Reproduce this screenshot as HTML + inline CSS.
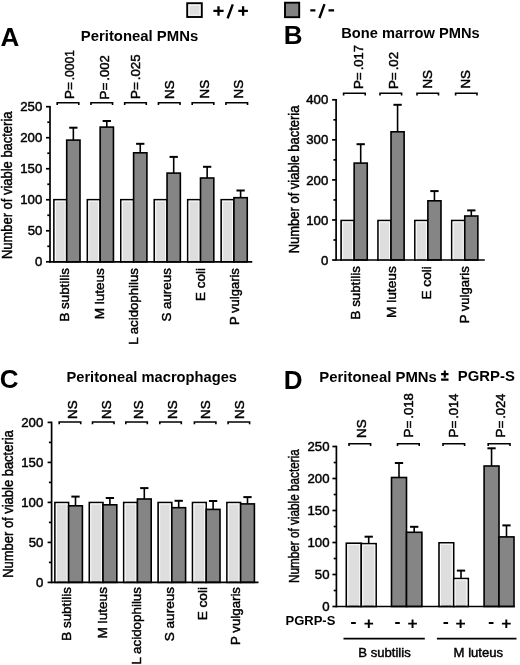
<!DOCTYPE html>
<html><head><meta charset="utf-8"><style>
html,body{margin:0;padding:0;background:#fff;overflow:hidden;}
svg{display:block;will-change:transform;}
text{font-family:"Liberation Sans", sans-serif;fill:#000;}
</style></head><body>
<svg width="520" height="665" viewBox="0 0 520 665">
<rect width="520" height="665" fill="#fff"/>
<rect x="187.2" y="3.2" width="14.6" height="13.8" fill="#dedede" stroke="#000" stroke-width="1.9"/>
<rect x="189.1" y="5.1" width="10.8" height="10.0" fill="none" stroke="#f6f6f6" stroke-width="1"/>
<path d="M213.4 10.9H223.6M218.5 6.3V15.7M238.3 10.9H247.9M243.1 6.3V15.7" stroke="#000" stroke-width="2.3" fill="none"/>
<path d="M227.6 18.4L232.8 4.3" stroke="#000" stroke-width="2.4" fill="none"/>
<rect x="285.0" y="2.7" width="14.2" height="14.5" fill="#828282" stroke="#000" stroke-width="1.9"/>
<path d="M310.3 10.4H315.4M328.5 10.4H334.1" stroke="#000" stroke-width="2.3" fill="none"/>
<path d="M319.4 18.1L324.5 4.2" stroke="#000" stroke-width="2.4" fill="none"/>
<text x="0.55" y="45.60" font-size="26.00" font-weight="bold" text-anchor="start">A</text>
<text x="283.85" y="44.35" font-size="26.00" font-weight="bold" text-anchor="start">B</text>
<text x="-0.15" y="387.75" font-size="26.00" font-weight="bold" text-anchor="start">C</text>
<text x="283.85" y="388.55" font-size="26.00" font-weight="bold" text-anchor="start">D</text>
<text x="80.75" y="40.75" font-size="14.80" font-weight="bold" text-anchor="start" textLength="117.47" lengthAdjust="spacingAndGlyphs">Peritoneal PMNs</text>
<text x="341.25" y="38.45" font-size="14.80" font-weight="bold" text-anchor="start" textLength="138.48" lengthAdjust="spacingAndGlyphs">Bone marrow PMNs</text>
<text x="66.45" y="381.50" font-size="14.80" font-weight="bold" text-anchor="start" textLength="170.57" lengthAdjust="spacingAndGlyphs">Peritoneal macrophages</text>
<text x="319.30" y="382.25" font-size="14.80" font-weight="bold" text-anchor="start" textLength="117.57" lengthAdjust="spacingAndGlyphs">Peritoneal PMNs</text>
<path d="M441.1 374.1H448.5M444.8 370.4V377.8M441.1 379.6H448.5" stroke="#000" stroke-width="2.1" fill="none"/>
<text x="457.85" y="381.25" font-size="14.80" font-weight="bold" text-anchor="start" textLength="57.03" lengthAdjust="spacingAndGlyphs">PGRP-S</text>
<line x1="50.00" y1="262.65" x2="50.00" y2="105.90" stroke="#000" stroke-width="1.7"/>
<line x1="46.00" y1="261.80" x2="50.00" y2="261.80" stroke="#000" stroke-width="1.7"/>
<line x1="47.30" y1="246.29" x2="50.00" y2="246.29" stroke="#000" stroke-width="1.7"/>
<line x1="46.00" y1="230.78" x2="50.00" y2="230.78" stroke="#000" stroke-width="1.7"/>
<line x1="47.30" y1="215.27" x2="50.00" y2="215.27" stroke="#000" stroke-width="1.7"/>
<line x1="46.00" y1="199.76" x2="50.00" y2="199.76" stroke="#000" stroke-width="1.7"/>
<line x1="47.30" y1="184.25" x2="50.00" y2="184.25" stroke="#000" stroke-width="1.7"/>
<line x1="46.00" y1="168.74" x2="50.00" y2="168.74" stroke="#000" stroke-width="1.7"/>
<line x1="47.30" y1="153.23" x2="50.00" y2="153.23" stroke="#000" stroke-width="1.7"/>
<line x1="46.00" y1="137.72" x2="50.00" y2="137.72" stroke="#000" stroke-width="1.7"/>
<line x1="47.30" y1="122.21" x2="50.00" y2="122.21" stroke="#000" stroke-width="1.7"/>
<line x1="46.00" y1="106.70" x2="50.00" y2="106.70" stroke="#000" stroke-width="1.7"/>
<text x="42.30" y="266.40" font-size="13.20" font-weight="normal" text-anchor="end" stroke="#000" stroke-width="0.45">0</text>
<text x="42.30" y="235.38" font-size="13.20" font-weight="normal" text-anchor="end" stroke="#000" stroke-width="0.45">50</text>
<text x="42.30" y="204.36" font-size="13.20" font-weight="normal" text-anchor="end" stroke="#000" stroke-width="0.45">100</text>
<text x="42.30" y="173.34" font-size="13.20" font-weight="normal" text-anchor="end" stroke="#000" stroke-width="0.45">150</text>
<text x="42.30" y="142.32" font-size="13.20" font-weight="normal" text-anchor="end" stroke="#000" stroke-width="0.45">200</text>
<text x="42.30" y="111.30" font-size="13.20" font-weight="normal" text-anchor="end" stroke="#000" stroke-width="0.45">250</text>
<text x="11.80" y="185.30" font-size="14.00" font-weight="normal" text-anchor="middle" transform="rotate(-90 11.80 185.30)" stroke="#000" stroke-width="0.45" textLength="147.50" lengthAdjust="spacingAndGlyphs">Number of viable bacteria</text>
<rect x="53.90" y="199.70" width="12.80" height="62.10" fill="#dedede" stroke="#000" stroke-width="1.6"/>
<rect x="55.40" y="201.20" width="9.80" height="60.60" fill="none" stroke="#f8f8f8" stroke-width="1.1"/>
<line x1="73.35" y1="127.70" x2="73.35" y2="140.10" stroke="#000" stroke-width="1.6"/>
<line x1="69.20" y1="127.70" x2="77.50" y2="127.70" stroke="#000" stroke-width="2.0"/>
<rect x="66.70" y="140.10" width="13.30" height="121.70" fill="#858585" stroke="#000" stroke-width="1.6"/>
<path d="M57.20 105.00 V102.80 H78.80 V105.00" fill="none" stroke="#000" stroke-width="1.6"/>
<text x="74.40" y="99.00" font-size="13.40" font-weight="normal" text-anchor="start" transform="rotate(-90 74.40 99.00)" stroke="#000" stroke-width="0.45">P=<tspan dx="2.00" textLength="30.10" lengthAdjust="spacingAndGlyphs">.0001</tspan></text>
<text x="68.80" y="268.10" font-size="13.40" font-weight="normal" text-anchor="end" transform="rotate(-90 68.80 268.10)" stroke="#000" stroke-width="0.45" textLength="53.49" lengthAdjust="spacingAndGlyphs">B subtilis</text>
<rect x="87.35" y="199.70" width="12.80" height="62.10" fill="#dedede" stroke="#000" stroke-width="1.6"/>
<rect x="88.85" y="201.20" width="9.80" height="60.60" fill="none" stroke="#f8f8f8" stroke-width="1.1"/>
<line x1="106.80" y1="121.00" x2="106.80" y2="127.10" stroke="#000" stroke-width="1.6"/>
<line x1="102.65" y1="121.00" x2="110.95" y2="121.00" stroke="#000" stroke-width="2.0"/>
<rect x="100.15" y="127.10" width="13.30" height="134.70" fill="#858585" stroke="#000" stroke-width="1.6"/>
<path d="M90.95 105.00 V102.80 H112.55 V105.00" fill="none" stroke="#000" stroke-width="1.6"/>
<text x="109.15" y="99.50" font-size="13.40" font-weight="normal" text-anchor="start" transform="rotate(-90 109.15 99.50)" stroke="#000" stroke-width="0.45">P=<tspan dx="2.00" textLength="25.40" lengthAdjust="spacingAndGlyphs">.002</tspan></text>
<text x="104.25" y="268.10" font-size="13.40" font-weight="normal" text-anchor="end" transform="rotate(-90 104.25 268.10)" stroke="#000" stroke-width="0.45" textLength="51.21" lengthAdjust="spacingAndGlyphs">M luteus</text>
<rect x="120.80" y="199.70" width="12.80" height="62.10" fill="#dedede" stroke="#000" stroke-width="1.6"/>
<rect x="122.30" y="201.20" width="9.80" height="60.60" fill="none" stroke="#f8f8f8" stroke-width="1.1"/>
<line x1="140.25" y1="143.80" x2="140.25" y2="152.80" stroke="#000" stroke-width="1.6"/>
<line x1="136.10" y1="143.80" x2="144.40" y2="143.80" stroke="#000" stroke-width="2.0"/>
<rect x="133.60" y="152.80" width="13.30" height="109.00" fill="#858585" stroke="#000" stroke-width="1.6"/>
<path d="M124.70 105.00 V102.80 H146.30 V105.00" fill="none" stroke="#000" stroke-width="1.6"/>
<text x="139.90" y="99.00" font-size="13.40" font-weight="normal" text-anchor="start" transform="rotate(-90 139.90 99.00)" stroke="#000" stroke-width="0.45">P=<tspan dx="2.00" textLength="25.90" lengthAdjust="spacingAndGlyphs">.025</tspan></text>
<text x="138.20" y="268.10" font-size="13.40" font-weight="normal" text-anchor="end" transform="rotate(-90 138.20 268.10)" stroke="#000" stroke-width="0.45" textLength="76.67" lengthAdjust="spacingAndGlyphs">L acidophilus</text>
<rect x="154.25" y="199.70" width="12.80" height="62.10" fill="#dedede" stroke="#000" stroke-width="1.6"/>
<rect x="155.75" y="201.20" width="9.80" height="60.60" fill="none" stroke="#f8f8f8" stroke-width="1.1"/>
<line x1="173.70" y1="156.90" x2="173.70" y2="173.10" stroke="#000" stroke-width="1.6"/>
<line x1="169.55" y1="156.90" x2="177.85" y2="156.90" stroke="#000" stroke-width="2.0"/>
<rect x="167.05" y="173.10" width="13.30" height="88.70" fill="#858585" stroke="#000" stroke-width="1.6"/>
<path d="M158.45 105.00 V102.80 H180.05 V105.00" fill="none" stroke="#000" stroke-width="1.6"/>
<text x="174.15" y="99.00" font-size="13.40" font-weight="normal" text-anchor="start" transform="rotate(-90 174.15 99.00)" stroke="#000" stroke-width="0.45">NS</text>
<text x="171.15" y="268.10" font-size="13.40" font-weight="normal" text-anchor="end" transform="rotate(-90 171.15 268.10)" stroke="#000" stroke-width="0.45" textLength="53.51" lengthAdjust="spacingAndGlyphs">S aureus</text>
<rect x="187.70" y="199.70" width="12.80" height="62.10" fill="#dedede" stroke="#000" stroke-width="1.6"/>
<rect x="189.20" y="201.20" width="9.80" height="60.60" fill="none" stroke="#f8f8f8" stroke-width="1.1"/>
<line x1="207.15" y1="166.80" x2="207.15" y2="178.00" stroke="#000" stroke-width="1.6"/>
<line x1="203.00" y1="166.80" x2="211.30" y2="166.80" stroke="#000" stroke-width="2.0"/>
<rect x="200.50" y="178.00" width="13.30" height="83.80" fill="#858585" stroke="#000" stroke-width="1.6"/>
<path d="M192.20 105.00 V102.80 H213.80 V105.00" fill="none" stroke="#000" stroke-width="1.6"/>
<text x="208.90" y="98.50" font-size="13.40" font-weight="normal" text-anchor="start" transform="rotate(-90 208.90 98.50)" stroke="#000" stroke-width="0.45">NS</text>
<text x="204.60" y="268.10" font-size="13.40" font-weight="normal" text-anchor="end" transform="rotate(-90 204.60 268.10)" stroke="#000" stroke-width="0.45" textLength="32.85" lengthAdjust="spacingAndGlyphs">E coli</text>
<rect x="221.15" y="199.70" width="12.80" height="62.10" fill="#dedede" stroke="#000" stroke-width="1.6"/>
<rect x="222.65" y="201.20" width="9.80" height="60.60" fill="none" stroke="#f8f8f8" stroke-width="1.1"/>
<line x1="240.60" y1="190.50" x2="240.60" y2="197.70" stroke="#000" stroke-width="1.6"/>
<line x1="236.45" y1="190.50" x2="244.75" y2="190.50" stroke="#000" stroke-width="2.0"/>
<rect x="233.95" y="197.70" width="13.30" height="64.10" fill="#858585" stroke="#000" stroke-width="1.6"/>
<path d="M225.95 105.00 V102.80 H247.55 V105.00" fill="none" stroke="#000" stroke-width="1.6"/>
<text x="242.65" y="98.50" font-size="13.40" font-weight="normal" text-anchor="start" transform="rotate(-90 242.65 98.50)" stroke="#000" stroke-width="0.45">NS</text>
<text x="238.55" y="268.10" font-size="13.40" font-weight="normal" text-anchor="end" transform="rotate(-90 238.55 268.10)" stroke="#000" stroke-width="0.45" textLength="56.96" lengthAdjust="spacingAndGlyphs">P vulgaris</text>
<line x1="50.00" y1="261.80" x2="252.30" y2="261.80" stroke="#000" stroke-width="1.7"/>
<line x1="336.10" y1="260.85" x2="336.10" y2="99.00" stroke="#000" stroke-width="1.7"/>
<line x1="332.10" y1="260.00" x2="336.10" y2="260.00" stroke="#000" stroke-width="1.7"/>
<line x1="333.40" y1="239.97" x2="336.10" y2="239.97" stroke="#000" stroke-width="1.7"/>
<line x1="332.10" y1="219.95" x2="336.10" y2="219.95" stroke="#000" stroke-width="1.7"/>
<line x1="333.40" y1="199.93" x2="336.10" y2="199.93" stroke="#000" stroke-width="1.7"/>
<line x1="332.10" y1="179.90" x2="336.10" y2="179.90" stroke="#000" stroke-width="1.7"/>
<line x1="333.40" y1="159.88" x2="336.10" y2="159.88" stroke="#000" stroke-width="1.7"/>
<line x1="332.10" y1="139.85" x2="336.10" y2="139.85" stroke="#000" stroke-width="1.7"/>
<line x1="333.40" y1="119.82" x2="336.10" y2="119.82" stroke="#000" stroke-width="1.7"/>
<line x1="332.10" y1="99.80" x2="336.10" y2="99.80" stroke="#000" stroke-width="1.7"/>
<text x="328.30" y="264.60" font-size="13.20" font-weight="normal" text-anchor="end" stroke="#000" stroke-width="0.45">0</text>
<text x="328.30" y="224.55" font-size="13.20" font-weight="normal" text-anchor="end" stroke="#000" stroke-width="0.45">100</text>
<text x="328.30" y="184.50" font-size="13.20" font-weight="normal" text-anchor="end" stroke="#000" stroke-width="0.45">200</text>
<text x="328.30" y="144.45" font-size="13.20" font-weight="normal" text-anchor="end" stroke="#000" stroke-width="0.45">300</text>
<text x="328.30" y="104.40" font-size="13.20" font-weight="normal" text-anchor="end" stroke="#000" stroke-width="0.45">400</text>
<text x="298.75" y="179.40" font-size="14.00" font-weight="normal" text-anchor="middle" transform="rotate(-90 298.75 179.40)" stroke="#000" stroke-width="0.45" textLength="147.70" lengthAdjust="spacingAndGlyphs">Number of viable bacteria</text>
<rect x="341.10" y="220.50" width="13.05" height="39.50" fill="#dedede" stroke="#000" stroke-width="1.6"/>
<rect x="342.60" y="222.00" width="10.05" height="38.00" fill="none" stroke="#f8f8f8" stroke-width="1.1"/>
<line x1="360.70" y1="144.20" x2="360.70" y2="163.10" stroke="#000" stroke-width="1.6"/>
<line x1="356.55" y1="144.20" x2="364.85" y2="144.20" stroke="#000" stroke-width="2.0"/>
<rect x="354.15" y="163.10" width="13.10" height="96.90" fill="#858585" stroke="#000" stroke-width="1.6"/>
<path d="M343.60 95.40 V93.20 H365.20 V95.40" fill="none" stroke="#000" stroke-width="1.6"/>
<text x="362.90" y="89.10" font-size="13.40" font-weight="normal" text-anchor="start" transform="rotate(-90 362.90 89.10)" stroke="#000" stroke-width="0.45">P=<tspan dx="2.00" textLength="25.20" lengthAdjust="spacingAndGlyphs">.017</tspan></text>
<text x="359.60" y="266.20" font-size="13.40" font-weight="normal" text-anchor="end" transform="rotate(-90 359.60 266.20)" stroke="#000" stroke-width="0.45" textLength="53.19" lengthAdjust="spacingAndGlyphs">B subtilis</text>
<rect x="377.97" y="220.50" width="13.05" height="39.50" fill="#dedede" stroke="#000" stroke-width="1.6"/>
<rect x="379.47" y="222.00" width="10.05" height="38.00" fill="none" stroke="#f8f8f8" stroke-width="1.1"/>
<line x1="397.57" y1="104.80" x2="397.57" y2="131.80" stroke="#000" stroke-width="1.6"/>
<line x1="393.42" y1="104.80" x2="401.72" y2="104.80" stroke="#000" stroke-width="2.0"/>
<rect x="391.02" y="131.80" width="13.10" height="128.20" fill="#858585" stroke="#000" stroke-width="1.6"/>
<path d="M380.00 95.40 V93.20 H401.60 V95.40" fill="none" stroke="#000" stroke-width="1.6"/>
<text x="398.30" y="89.10" font-size="13.40" font-weight="normal" text-anchor="start" transform="rotate(-90 398.30 89.10)" stroke="#000" stroke-width="0.45">P=<tspan dx="2.00" textLength="18.40" lengthAdjust="spacingAndGlyphs">.02</tspan></text>
<text x="395.97" y="266.20" font-size="13.40" font-weight="normal" text-anchor="end" transform="rotate(-90 395.97 266.20)" stroke="#000" stroke-width="0.45" textLength="51.91" lengthAdjust="spacingAndGlyphs">M luteus</text>
<rect x="414.84" y="220.50" width="13.05" height="39.50" fill="#dedede" stroke="#000" stroke-width="1.6"/>
<rect x="416.34" y="222.00" width="10.05" height="38.00" fill="none" stroke="#f8f8f8" stroke-width="1.1"/>
<line x1="434.44" y1="191.10" x2="434.44" y2="200.80" stroke="#000" stroke-width="1.6"/>
<line x1="430.29" y1="191.10" x2="438.59" y2="191.10" stroke="#000" stroke-width="2.0"/>
<rect x="427.89" y="200.80" width="13.10" height="59.20" fill="#858585" stroke="#000" stroke-width="1.6"/>
<path d="M417.00 95.40 V93.20 H438.50 V95.40" fill="none" stroke="#000" stroke-width="1.6"/>
<text x="431.75" y="88.60" font-size="13.40" font-weight="normal" text-anchor="start" transform="rotate(-90 431.75 88.60)" stroke="#000" stroke-width="0.45">NS</text>
<text x="431.34" y="266.20" font-size="13.40" font-weight="normal" text-anchor="end" transform="rotate(-90 431.34 266.20)" stroke="#000" stroke-width="0.45" textLength="33.35" lengthAdjust="spacingAndGlyphs">E coli</text>
<rect x="451.71" y="220.50" width="13.05" height="39.50" fill="#dedede" stroke="#000" stroke-width="1.6"/>
<rect x="453.21" y="222.00" width="10.05" height="38.00" fill="none" stroke="#f8f8f8" stroke-width="1.1"/>
<line x1="471.31" y1="210.40" x2="471.31" y2="216.00" stroke="#000" stroke-width="1.6"/>
<line x1="467.16" y1="210.40" x2="475.46" y2="210.40" stroke="#000" stroke-width="2.0"/>
<rect x="464.76" y="216.00" width="13.10" height="44.00" fill="#858585" stroke="#000" stroke-width="1.6"/>
<path d="M455.60 95.40 V93.20 H477.00 V95.40" fill="none" stroke="#000" stroke-width="1.6"/>
<text x="470.30" y="88.60" font-size="13.40" font-weight="normal" text-anchor="start" transform="rotate(-90 470.30 88.60)" stroke="#000" stroke-width="0.45">NS</text>
<text x="469.21" y="266.20" font-size="13.40" font-weight="normal" text-anchor="end" transform="rotate(-90 469.21 266.20)" stroke="#000" stroke-width="0.45" textLength="57.06" lengthAdjust="spacingAndGlyphs">P vulgaris</text>
<line x1="336.10" y1="260.00" x2="484.80" y2="260.00" stroke="#000" stroke-width="1.7"/>
<line x1="51.60" y1="583.25" x2="51.60" y2="421.60" stroke="#000" stroke-width="1.7"/>
<line x1="47.60" y1="582.40" x2="51.60" y2="582.40" stroke="#000" stroke-width="1.7"/>
<line x1="48.90" y1="562.40" x2="51.60" y2="562.40" stroke="#000" stroke-width="1.7"/>
<line x1="47.60" y1="542.40" x2="51.60" y2="542.40" stroke="#000" stroke-width="1.7"/>
<line x1="48.90" y1="522.40" x2="51.60" y2="522.40" stroke="#000" stroke-width="1.7"/>
<line x1="47.60" y1="502.40" x2="51.60" y2="502.40" stroke="#000" stroke-width="1.7"/>
<line x1="48.90" y1="482.40" x2="51.60" y2="482.40" stroke="#000" stroke-width="1.7"/>
<line x1="47.60" y1="462.40" x2="51.60" y2="462.40" stroke="#000" stroke-width="1.7"/>
<line x1="48.90" y1="442.40" x2="51.60" y2="442.40" stroke="#000" stroke-width="1.7"/>
<line x1="47.60" y1="422.40" x2="51.60" y2="422.40" stroke="#000" stroke-width="1.7"/>
<text x="43.30" y="587.00" font-size="13.20" font-weight="normal" text-anchor="end" stroke="#000" stroke-width="0.45">0</text>
<text x="43.30" y="547.00" font-size="13.20" font-weight="normal" text-anchor="end" stroke="#000" stroke-width="0.45">50</text>
<text x="43.30" y="507.00" font-size="13.20" font-weight="normal" text-anchor="end" stroke="#000" stroke-width="0.45">100</text>
<text x="43.30" y="467.00" font-size="13.20" font-weight="normal" text-anchor="end" stroke="#000" stroke-width="0.45">150</text>
<text x="43.30" y="427.00" font-size="13.20" font-weight="normal" text-anchor="end" stroke="#000" stroke-width="0.45">200</text>
<text x="12.75" y="504.00" font-size="14.00" font-weight="normal" text-anchor="middle" transform="rotate(-90 12.75 504.00)" stroke="#000" stroke-width="0.45" textLength="147.50" lengthAdjust="spacingAndGlyphs">Number of viable bacteria</text>
<rect x="54.90" y="502.50" width="13.70" height="79.90" fill="#dedede" stroke="#000" stroke-width="1.6"/>
<rect x="56.40" y="504.00" width="10.70" height="78.40" fill="none" stroke="#f8f8f8" stroke-width="1.1"/>
<line x1="75.50" y1="496.60" x2="75.50" y2="505.80" stroke="#000" stroke-width="1.6"/>
<line x1="71.35" y1="496.60" x2="79.65" y2="496.60" stroke="#000" stroke-width="2.0"/>
<rect x="68.60" y="505.80" width="13.80" height="76.60" fill="#858585" stroke="#000" stroke-width="1.6"/>
<path d="M59.20 424.20 V422.00 H80.70 V424.20" fill="none" stroke="#000" stroke-width="1.6"/>
<text x="77.00" y="418.90" font-size="13.40" font-weight="normal" text-anchor="start" transform="rotate(-90 77.00 418.90)" stroke="#000" stroke-width="0.45">NS</text>
<text x="71.40" y="587.00" font-size="13.40" font-weight="normal" text-anchor="end" transform="rotate(-90 71.40 587.00)" stroke="#000" stroke-width="0.45" textLength="53.79" lengthAdjust="spacingAndGlyphs">B subtilis</text>
<rect x="89.30" y="502.50" width="13.70" height="79.90" fill="#dedede" stroke="#000" stroke-width="1.6"/>
<rect x="90.80" y="504.00" width="10.70" height="78.40" fill="none" stroke="#f8f8f8" stroke-width="1.1"/>
<line x1="109.90" y1="498.00" x2="109.90" y2="504.80" stroke="#000" stroke-width="1.6"/>
<line x1="105.75" y1="498.00" x2="114.05" y2="498.00" stroke="#000" stroke-width="2.0"/>
<rect x="103.00" y="504.80" width="13.80" height="77.60" fill="#858585" stroke="#000" stroke-width="1.6"/>
<path d="M92.50 424.20 V422.00 H114.00 V424.20" fill="none" stroke="#000" stroke-width="1.6"/>
<text x="110.70" y="418.90" font-size="13.40" font-weight="normal" text-anchor="start" transform="rotate(-90 110.70 418.90)" stroke="#000" stroke-width="0.45">NS</text>
<text x="106.80" y="587.00" font-size="13.40" font-weight="normal" text-anchor="end" transform="rotate(-90 106.80 587.00)" stroke="#000" stroke-width="0.45" textLength="51.51" lengthAdjust="spacingAndGlyphs">M luteus</text>
<rect x="123.70" y="502.50" width="13.70" height="79.90" fill="#dedede" stroke="#000" stroke-width="1.6"/>
<rect x="125.20" y="504.00" width="10.70" height="78.40" fill="none" stroke="#f8f8f8" stroke-width="1.1"/>
<line x1="144.30" y1="488.10" x2="144.30" y2="499.00" stroke="#000" stroke-width="1.6"/>
<line x1="140.15" y1="488.10" x2="148.45" y2="488.10" stroke="#000" stroke-width="2.0"/>
<rect x="137.40" y="499.00" width="13.80" height="83.40" fill="#858585" stroke="#000" stroke-width="1.6"/>
<path d="M125.80 424.20 V422.00 H147.30 V424.20" fill="none" stroke="#000" stroke-width="1.6"/>
<text x="143.50" y="418.90" font-size="13.40" font-weight="normal" text-anchor="start" transform="rotate(-90 143.50 418.90)" stroke="#000" stroke-width="0.45">NS</text>
<text x="140.70" y="587.00" font-size="13.40" font-weight="normal" text-anchor="end" transform="rotate(-90 140.70 587.00)" stroke="#000" stroke-width="0.45" textLength="77.62" lengthAdjust="spacingAndGlyphs">L acidophilus</text>
<rect x="158.10" y="502.50" width="13.70" height="79.90" fill="#dedede" stroke="#000" stroke-width="1.6"/>
<rect x="159.60" y="504.00" width="10.70" height="78.40" fill="none" stroke="#f8f8f8" stroke-width="1.1"/>
<line x1="178.70" y1="500.80" x2="178.70" y2="507.70" stroke="#000" stroke-width="1.6"/>
<line x1="174.55" y1="500.80" x2="182.85" y2="500.80" stroke="#000" stroke-width="2.0"/>
<rect x="171.80" y="507.70" width="13.80" height="74.70" fill="#858585" stroke="#000" stroke-width="1.6"/>
<path d="M159.80 424.20 V422.00 H181.30 V424.20" fill="none" stroke="#000" stroke-width="1.6"/>
<text x="177.50" y="418.90" font-size="13.40" font-weight="normal" text-anchor="start" transform="rotate(-90 177.50 418.90)" stroke="#000" stroke-width="0.45">NS</text>
<text x="174.10" y="587.00" font-size="13.40" font-weight="normal" text-anchor="end" transform="rotate(-90 174.10 587.00)" stroke="#000" stroke-width="0.45" textLength="54.21" lengthAdjust="spacingAndGlyphs">S aureus</text>
<rect x="192.50" y="502.50" width="13.70" height="79.90" fill="#dedede" stroke="#000" stroke-width="1.6"/>
<rect x="194.00" y="504.00" width="10.70" height="78.40" fill="none" stroke="#f8f8f8" stroke-width="1.1"/>
<line x1="213.10" y1="501.00" x2="213.10" y2="509.40" stroke="#000" stroke-width="1.6"/>
<line x1="208.95" y1="501.00" x2="217.25" y2="501.00" stroke="#000" stroke-width="2.0"/>
<rect x="206.20" y="509.40" width="13.80" height="73.00" fill="#858585" stroke="#000" stroke-width="1.6"/>
<path d="M194.40 424.20 V422.00 H215.90 V424.20" fill="none" stroke="#000" stroke-width="1.6"/>
<text x="209.60" y="418.90" font-size="13.40" font-weight="normal" text-anchor="start" transform="rotate(-90 209.60 418.90)" stroke="#000" stroke-width="0.45">NS</text>
<text x="207.00" y="587.00" font-size="13.40" font-weight="normal" text-anchor="end" transform="rotate(-90 207.00 587.00)" stroke="#000" stroke-width="0.45" textLength="33.35" lengthAdjust="spacingAndGlyphs">E coli</text>
<rect x="226.90" y="502.50" width="13.70" height="79.90" fill="#dedede" stroke="#000" stroke-width="1.6"/>
<rect x="228.40" y="504.00" width="10.70" height="78.40" fill="none" stroke="#f8f8f8" stroke-width="1.1"/>
<line x1="247.50" y1="497.10" x2="247.50" y2="503.90" stroke="#000" stroke-width="1.6"/>
<line x1="243.35" y1="497.10" x2="251.65" y2="497.10" stroke="#000" stroke-width="2.0"/>
<rect x="240.60" y="503.90" width="13.80" height="78.50" fill="#858585" stroke="#000" stroke-width="1.6"/>
<path d="M228.10 424.20 V422.00 H249.60 V424.20" fill="none" stroke="#000" stroke-width="1.6"/>
<text x="243.80" y="418.90" font-size="13.40" font-weight="normal" text-anchor="start" transform="rotate(-90 243.80 418.90)" stroke="#000" stroke-width="0.45">NS</text>
<text x="239.90" y="587.00" font-size="13.40" font-weight="normal" text-anchor="end" transform="rotate(-90 239.90 587.00)" stroke="#000" stroke-width="0.45" textLength="57.96" lengthAdjust="spacingAndGlyphs">P vulgaris</text>
<line x1="51.60" y1="582.40" x2="258.50" y2="582.40" stroke="#000" stroke-width="1.7"/>
<line x1="336.40" y1="607.35" x2="336.40" y2="445.70" stroke="#000" stroke-width="1.7"/>
<line x1="332.40" y1="606.50" x2="336.40" y2="606.50" stroke="#000" stroke-width="1.7"/>
<line x1="333.70" y1="590.50" x2="336.40" y2="590.50" stroke="#000" stroke-width="1.7"/>
<line x1="332.40" y1="574.50" x2="336.40" y2="574.50" stroke="#000" stroke-width="1.7"/>
<line x1="333.70" y1="558.50" x2="336.40" y2="558.50" stroke="#000" stroke-width="1.7"/>
<line x1="332.40" y1="542.50" x2="336.40" y2="542.50" stroke="#000" stroke-width="1.7"/>
<line x1="333.70" y1="526.50" x2="336.40" y2="526.50" stroke="#000" stroke-width="1.7"/>
<line x1="332.40" y1="510.50" x2="336.40" y2="510.50" stroke="#000" stroke-width="1.7"/>
<line x1="333.70" y1="494.50" x2="336.40" y2="494.50" stroke="#000" stroke-width="1.7"/>
<line x1="332.40" y1="478.50" x2="336.40" y2="478.50" stroke="#000" stroke-width="1.7"/>
<line x1="333.70" y1="462.50" x2="336.40" y2="462.50" stroke="#000" stroke-width="1.7"/>
<line x1="332.40" y1="446.50" x2="336.40" y2="446.50" stroke="#000" stroke-width="1.7"/>
<text x="329.50" y="611.10" font-size="13.20" font-weight="normal" text-anchor="end" stroke="#000" stroke-width="0.45">0</text>
<text x="329.50" y="579.10" font-size="13.20" font-weight="normal" text-anchor="end" stroke="#000" stroke-width="0.45">50</text>
<text x="329.50" y="547.10" font-size="13.20" font-weight="normal" text-anchor="end" stroke="#000" stroke-width="0.45">100</text>
<text x="329.50" y="515.10" font-size="13.20" font-weight="normal" text-anchor="end" stroke="#000" stroke-width="0.45">150</text>
<text x="329.50" y="483.10" font-size="13.20" font-weight="normal" text-anchor="end" stroke="#000" stroke-width="0.45">200</text>
<text x="329.50" y="451.10" font-size="13.20" font-weight="normal" text-anchor="end" stroke="#000" stroke-width="0.45">250</text>
<text x="298.65" y="516.10" font-size="14.00" font-weight="normal" text-anchor="middle" transform="rotate(-90 298.65 516.10)" stroke="#000" stroke-width="0.45" textLength="133.80" lengthAdjust="spacingAndGlyphs">Number of viable bacteria</text>
<rect x="346.30" y="543.20" width="14.95" height="63.30" fill="#dedede" stroke="#000" stroke-width="1.6"/>
<rect x="347.80" y="544.70" width="11.95" height="61.80" fill="none" stroke="#f8f8f8" stroke-width="1.1"/>
<line x1="368.70" y1="536.70" x2="368.70" y2="543.65" stroke="#000" stroke-width="1.6"/>
<line x1="364.55" y1="536.70" x2="372.85" y2="536.70" stroke="#000" stroke-width="2.0"/>
<rect x="361.25" y="543.65" width="14.90" height="62.85" fill="#dedede" stroke="#000" stroke-width="1.6"/>
<rect x="362.75" y="545.15" width="11.90" height="61.35" fill="none" stroke="#f8f8f8" stroke-width="1.1"/>
<line x1="399.00" y1="463.00" x2="399.00" y2="477.50" stroke="#000" stroke-width="1.6"/>
<line x1="394.85" y1="463.00" x2="403.15" y2="463.00" stroke="#000" stroke-width="2.0"/>
<rect x="391.50" y="477.50" width="15.00" height="129.00" fill="#858585" stroke="#000" stroke-width="1.6"/>
<line x1="414.20" y1="526.80" x2="414.20" y2="532.30" stroke="#000" stroke-width="1.6"/>
<line x1="410.05" y1="526.80" x2="418.35" y2="526.80" stroke="#000" stroke-width="2.0"/>
<rect x="406.50" y="532.30" width="15.40" height="74.20" fill="#858585" stroke="#000" stroke-width="1.6"/>
<rect x="439.00" y="542.80" width="14.70" height="63.70" fill="#dedede" stroke="#000" stroke-width="1.6"/>
<rect x="440.50" y="544.30" width="11.70" height="62.20" fill="none" stroke="#f8f8f8" stroke-width="1.1"/>
<line x1="461.00" y1="570.60" x2="461.00" y2="578.50" stroke="#000" stroke-width="1.6"/>
<line x1="456.85" y1="570.60" x2="465.15" y2="570.60" stroke="#000" stroke-width="2.0"/>
<rect x="453.70" y="578.50" width="14.60" height="28.00" fill="#dedede" stroke="#000" stroke-width="1.6"/>
<rect x="455.20" y="580.00" width="11.60" height="26.50" fill="none" stroke="#f8f8f8" stroke-width="1.1"/>
<line x1="491.55" y1="448.30" x2="491.55" y2="466.00" stroke="#000" stroke-width="1.6"/>
<line x1="487.40" y1="448.30" x2="495.70" y2="448.30" stroke="#000" stroke-width="2.0"/>
<rect x="484.10" y="466.00" width="14.90" height="140.50" fill="#858585" stroke="#000" stroke-width="1.6"/>
<line x1="506.50" y1="525.40" x2="506.50" y2="536.90" stroke="#000" stroke-width="1.6"/>
<line x1="502.35" y1="525.40" x2="510.65" y2="525.40" stroke="#000" stroke-width="2.0"/>
<rect x="499.00" y="536.90" width="15.00" height="69.60" fill="#858585" stroke="#000" stroke-width="1.6"/>
<path d="M349.00 446.00 V443.80 H370.60 V446.00" fill="none" stroke="#000" stroke-width="1.6"/>
<text x="365.80" y="438.00" font-size="13.40" font-weight="normal" text-anchor="start" transform="rotate(-90 365.80 438.00)" stroke="#000" stroke-width="0.45">NS</text>
<path d="M397.50 446.00 V443.80 H419.20 V446.00" fill="none" stroke="#000" stroke-width="1.6"/>
<text x="413.35" y="437.50" font-size="13.40" font-weight="normal" text-anchor="start" transform="rotate(-90 413.35 437.50)" stroke="#000" stroke-width="0.45">P=<tspan dx="2.00" textLength="25.60" lengthAdjust="spacingAndGlyphs">.018</tspan></text>
<path d="M443.00 446.00 V443.80 H464.60 V446.00" fill="none" stroke="#000" stroke-width="1.6"/>
<text x="458.30" y="437.50" font-size="13.40" font-weight="normal" text-anchor="start" transform="rotate(-90 458.30 437.50)" stroke="#000" stroke-width="0.45">P=<tspan dx="2.00" textLength="25.30" lengthAdjust="spacingAndGlyphs">.014</tspan></text>
<path d="M488.20 446.00 V443.80 H510.00 V446.00" fill="none" stroke="#000" stroke-width="1.6"/>
<text x="505.10" y="437.50" font-size="13.40" font-weight="normal" text-anchor="start" transform="rotate(-90 505.10 437.50)" stroke="#000" stroke-width="0.45">P=<tspan dx="2.00" textLength="25.30" lengthAdjust="spacingAndGlyphs">.024</tspan></text>
<line x1="336.40" y1="606.50" x2="514.80" y2="606.50" stroke="#000" stroke-width="1.7"/>
<text x="285.50" y="625.45" font-size="13.00" font-weight="bold" text-anchor="start">PGRP-S</text>
<path d="M351.1 622.9H355.8M395.2 622.9H399.8M443.5 622.9H448.1M488.8 622.9H493.5M364.5 623.6H373.1M368.80 619.4V627.9M408.2 623.6H416.9M412.55 619.4V627.9M456.2 623.6H465.0M460.60 619.4V627.9M501.9 623.6H510.7M506.30 619.4V627.9" stroke="#000" stroke-width="1.95" fill="none"/>
<line x1="343.50" y1="638.60" x2="424.80" y2="638.60" stroke="#000" stroke-width="1.7"/>
<line x1="436.90" y1="638.60" x2="516.50" y2="638.60" stroke="#000" stroke-width="1.7"/>
<text x="358.35" y="656.85" font-size="13.10" font-weight="normal" text-anchor="start" stroke="#000" stroke-width="0.45">B subtilis</text>
<text x="453.60" y="656.85" font-size="13.10" font-weight="normal" text-anchor="start" stroke="#000" stroke-width="0.45">M luteus</text>
</svg>
</body></html>
